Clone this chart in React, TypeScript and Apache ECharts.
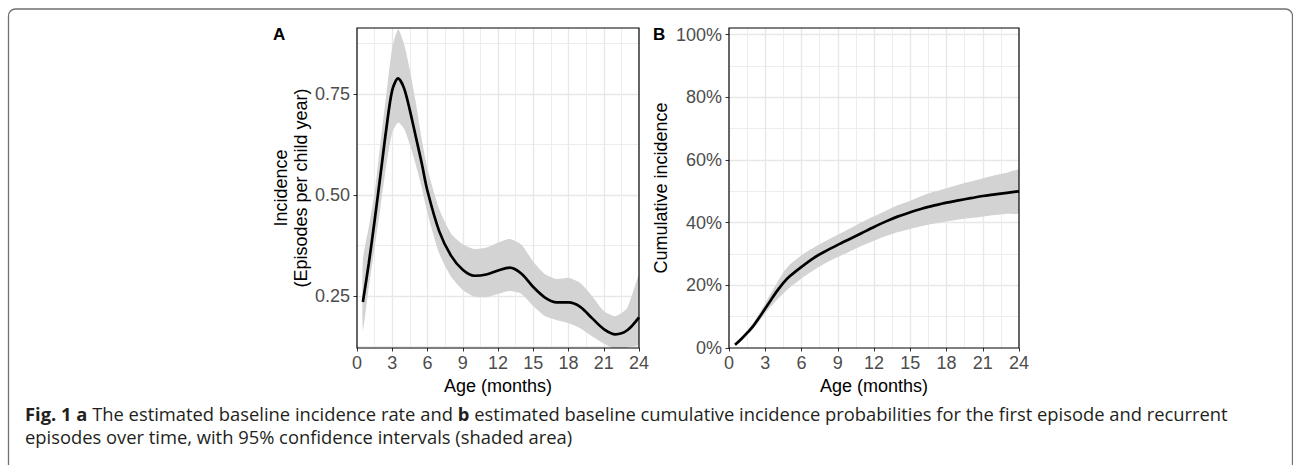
import React, { useEffect, useRef } from "react";
import * as echarts from "echarts";

// ---- Panel A: baseline incidence rate (episodes per child year) ----
const agesA = [0.5, 1, 1.5, 2, 2.5, 3, 3.5, 4, 4.5, 5, 5.5, 6, 7, 8, 9, 10, 11, 12, 13, 14, 15, 16, 17, 18, 19, 20, 21, 22, 23, 24];
const incMean = [0.235, 0.33, 0.437, 0.55, 0.665, 0.76, 0.789, 0.765, 0.71, 0.645, 0.58, 0.51, 0.41, 0.35, 0.315, 0.3, 0.303, 0.313, 0.32, 0.305, 0.272, 0.246, 0.234, 0.234, 0.223, 0.195, 0.168, 0.155, 0.165, 0.197];
const incUpper = [0.34, 0.42, 0.505, 0.63, 0.75, 0.865, 0.91, 0.875, 0.81, 0.73, 0.64, 0.565, 0.465, 0.405, 0.378, 0.366, 0.37, 0.382, 0.391, 0.377, 0.335, 0.304, 0.292, 0.295, 0.282, 0.25, 0.213, 0.2, 0.22, 0.3];
const incLower = [0.165, 0.27, 0.37, 0.47, 0.575, 0.655, 0.68, 0.665, 0.625, 0.575, 0.52, 0.455, 0.355, 0.298, 0.265, 0.248, 0.247, 0.255, 0.262, 0.255, 0.225, 0.2, 0.19, 0.183, 0.17, 0.15, 0.132, 0.118, 0.122, 0.13];

// ---- Panel B: cumulative incidence ----
const agesB = [0.5, 1, 1.5, 2, 2.5, 3, 3.5, 4, 4.5, 5, 6, 7, 8, 9, 10, 11, 12, 13, 14, 15, 16, 17, 18, 19, 20, 21, 22, 23, 24];
const cumMean = [0.01, 0.028, 0.048, 0.07, 0.097, 0.126, 0.155, 0.183, 0.208, 0.228, 0.259, 0.287, 0.309, 0.329, 0.348, 0.367, 0.386, 0.404, 0.42, 0.433, 0.445, 0.455, 0.464, 0.471, 0.478, 0.485, 0.49, 0.495, 0.5];
const cumUpper = [0.014, 0.033, 0.055, 0.08, 0.11, 0.143, 0.177, 0.21, 0.242, 0.265, 0.296, 0.32, 0.341, 0.361, 0.381, 0.401, 0.42, 0.438, 0.456, 0.47, 0.486, 0.499, 0.51, 0.521, 0.531, 0.541, 0.551, 0.559, 0.567];
const cumLower = [0.007, 0.023, 0.041, 0.061, 0.085, 0.111, 0.134, 0.155, 0.174, 0.192, 0.222, 0.248, 0.271, 0.29, 0.308, 0.326, 0.342, 0.357, 0.37, 0.38, 0.389, 0.397, 0.404, 0.41, 0.415, 0.419, 0.424, 0.428, 0.431];

// ---- Tick values ----
const yTicksA = [0.25, 0.5, 0.75];
const yMinorA = [0.125, 0.375, 0.625, 0.875];
const yTicksB = [0, 0.2, 0.4, 0.6, 0.8, 1.0];
const yMinorB = [0.1, 0.3, 0.5, 0.7, 0.9];

const captionLine1 = "{b|Fig. 1 a} The estimated baseline incidence rate and {b|b} estimated baseline cumulative incidence probabilities for the first episode and recurrent";
const captionLine2 = "episodes over time, with 95% confidence intervals (shaded area)";

const FONT = "'Liberation Sans', Arial, Helvetica, sans-serif";
const GRID_MAJOR = "#E8E8E8";
const GRID_MINOR = "#EDEDED";
const BAND = "#D3D3D3";

const GRID_A = { left: 357, top: 28, width: 282, height: 320 };
const GRID_B = { left: 729, top: 28, width: 290, height: 320 };

function zip(xs: number[], ys: number[]) {
  return xs.map((x, i) => [x, ys[i]]);
}

function xAxisCfg(gridIndex: number) {
  return {
    type: "value",
    gridIndex,
    min: 0,
    max: 24,
    interval: 3,
    name: "Age (months)",
    nameLocation: "middle",
    nameGap: 26,
    nameTextStyle: { fontFamily: FONT, fontSize: 18, color: "#000" },
    axisLine: { show: false },
    axisTick: { show: true, length: 3.5, lineStyle: { color: "#333", width: 1 } },
    axisLabel: { fontFamily: FONT, fontSize: 18, color: "#4D4D4D", margin: 6 },
    splitLine: { show: true, showMinLine: false, showMaxLine: false, lineStyle: { color: GRID_MAJOR, width: 1.4 } },
    minorTick: { show: false, splitNumber: 2 },
    minorSplitLine: { show: true, lineStyle: { color: GRID_MINOR, width: 1 } },
  };
}

function bandSeries(xAxisIndex: number, yAxisIndex: number, ages: number[], upper: number[], lower: number[]) {
  return {
    type: "custom",
    xAxisIndex,
    yAxisIndex,
    clip: true,
    silent: true,
    z: 2,
    data: [[ages[0], lower[0]]],
    encode: { x: 0, y: 1 },
    renderItem: (params: any, api: any) => {
      if (params.dataIndex !== 0) return null;
      const top = ages.map((a, i) => api.coord([a, upper[i]]));
      const bottom = ages.map((a, i) => api.coord([a, lower[i]])).reverse();
      return {
        type: "polygon",
        shape: { points: top.concat(bottom), smooth: 0.2, smoothConstraint: false },
        style: { fill: BAND },
      };
    },
  };
}

export default function App() {
  const ref = useRef<HTMLDivElement>(null);

  useEffect(() => {
    if (!ref.current) return;
    const chart = echarts.init(ref.current, null, { renderer: "svg" });

    const option: any = {
      animation: false,
      backgroundColor: "#fff",
      grid: [
        { ...GRID_A, show: false },
        { ...GRID_B, show: false },
      ],
      xAxis: [xAxisCfg(0), xAxisCfg(1)],
      yAxis: [
        {
          type: "value",
          gridIndex: 0,
          min: 0.121,
          max: 0.914,
          name: "Incidence\n(Episodes per child year)",
          nameLocation: "middle",
          nameGap: 44,
          nameTextStyle: { fontFamily: FONT, fontSize: 18, color: "#000", lineHeight: 20 },
          axisLine: { show: false },
          axisTick: { show: true, length: 3.5, customValues: yTicksA, lineStyle: { color: "#333", width: 1 } },
          axisLabel: { customValues: yTicksA, fontFamily: FONT, fontSize: 18, color: "#4D4D4D", margin: 7, formatter: (v: number) => v.toFixed(2) },
          splitLine: { show: true, lineStyle: { color: GRID_MAJOR, width: 1.4 } },
        },
        {
          type: "value",
          gridIndex: 0,
          min: 0.121,
          max: 0.914,
          axisLine: { show: false },
          axisTick: { show: false, customValues: yMinorA },
          axisLabel: { show: false, customValues: yMinorA },
          splitLine: { show: true, lineStyle: { color: GRID_MINOR, width: 1 } },
        },
        {
          type: "value",
          gridIndex: 1,
          min: 0,
          max: 1.021,
          name: "Cumulative incidence",
          nameLocation: "middle",
          nameGap: 59,
          nameTextStyle: { fontFamily: FONT, fontSize: 18, color: "#000" },
          axisLine: { show: false },
          axisTick: { show: true, length: 3.5, customValues: yTicksB, lineStyle: { color: "#333", width: 1 } },
          axisLabel: { customValues: yTicksB, fontFamily: FONT, fontSize: 18, color: "#4D4D4D", margin: 7, formatter: (v: number) => Math.round(v * 100) + "%" },
          splitLine: { show: true, showMinLine: false, lineStyle: { color: GRID_MAJOR, width: 1.4 } },
        },
        {
          type: "value",
          gridIndex: 1,
          min: 0,
          max: 1.021,
          axisLine: { show: false },
          axisTick: { show: false, customValues: yMinorB },
          axisLabel: { show: false, customValues: yMinorB },
          splitLine: { show: true, lineStyle: { color: GRID_MINOR, width: 1 } },
        },
      ],
      series: [
        bandSeries(0, 0, agesA, incUpper, incLower),
        {
          type: "line", xAxisIndex: 0, yAxisIndex: 0, data: zip(agesA, incMean),
          symbol: "none", smooth: 0.3, lineStyle: { color: "#000", width: 2.7 }, z: 5,
        },
        bandSeries(1, 2, agesB, cumUpper, cumLower),
        {
          type: "line", xAxisIndex: 1, yAxisIndex: 2, data: zip(agesB, cumMean),
          symbol: "none", smooth: 0.3, lineStyle: { color: "#000", width: 2.7 }, z: 5,
        },
      ],
      graphic: [
        {
          type: "rect",
          shape: { x: 8.5, y: 9, width: 1284, height: 520, r: 7 },
          style: { fill: "none", stroke: "#707070", lineWidth: 1.3 },
          silent: true,
        },
        {
          type: "rect",
          z: 100,
          shape: { x: GRID_A.left, y: GRID_A.top, width: GRID_A.width, height: GRID_A.height },
          style: { fill: "none", stroke: "#000", lineWidth: 1.2 },
          silent: true,
        },
        {
          type: "rect",
          z: 100,
          shape: { x: GRID_B.left, y: GRID_B.top, width: GRID_B.width, height: GRID_B.height },
          style: { fill: "none", stroke: "#000", lineWidth: 1.2 },
          silent: true,
        },
        {
          type: "text",
          x: 273, y: 34,
          style: { text: "A", font: `bold 17px ${FONT}`, fill: "#000", textVerticalAlign: "middle" },
        },
        {
          type: "text",
          x: 653, y: 34,
          style: { text: "B", font: `bold 17px ${FONT}`, fill: "#000", textVerticalAlign: "middle" },
        },
        {
          type: "text",
          x: 25, y: 403,
          scaleX: 1.02,
          style: {
            text: captionLine1 + "\n" + captionLine2,
            fontFamily: "'Open Sans', sans-serif",
            fontSize: 18,
            lineHeight: 23,
            fill: "#231F20",
            rich: {
              b: { fontFamily: "'Open Sans', sans-serif", fontSize: 18, fontWeight: "bold", fill: "#231F20", lineHeight: 23 },
            },
          },
        },
      ],
    };

    chart.setOption(option);
    return () => chart.dispose();
  }, []);

  return <div ref={ref} style={{ position: "absolute", left: 0, top: 0, width: 1293, height: 465 }} />;
}
